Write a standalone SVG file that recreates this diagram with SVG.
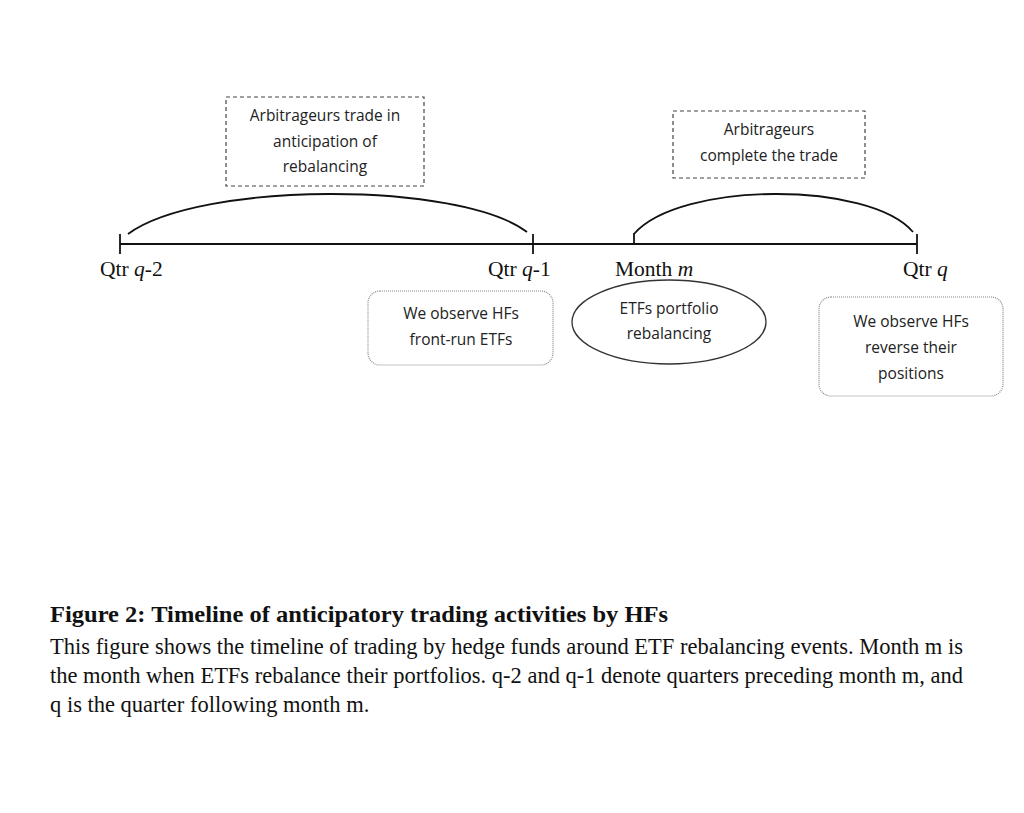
<svg xmlns="http://www.w3.org/2000/svg" width="1024" height="813" viewBox="0 0 1024 813">
<style>
.sans{font-family:"Open Sans","Noto Sans",sans-serif;font-size:15.5px;fill:#222;text-anchor:middle}
.serif{font-family:"Liberation Serif","Times New Roman",serif;font-size:22.5px;fill:#111}
.lbl{font-family:"Liberation Serif","Times New Roman",serif;font-size:21.5px;fill:#111}
.dash{fill:none;stroke:#444;stroke-width:1.2;stroke-dasharray:4 3}
.dot{fill:none;stroke:#888;stroke-width:1.2;stroke-dasharray:1 1}
.line{fill:none;stroke:#111;stroke-width:1.8}
</style>
<rect width="1024" height="813" fill="#fff"/>
<g id="connectors">
<line class="line" x1="120" y1="244" x2="917" y2="244"/>
<line class="line" x1="120" y1="234" x2="120" y2="254"/>
<line class="line" x1="533" y1="234" x2="533" y2="254"/>
<line class="line" x1="634" y1="233" x2="634" y2="244"/>
<line class="line" x1="917" y1="234" x2="917" y2="254"/>
<path class="line" d="M128,234 C200,181 460,181 527,232"/>
<path class="line" d="M634,234 C680,181 870,181 913,232"/>
</g>
<g id="labels">
<text class="lbl" x="100" y="276">Qtr <tspan font-style="italic">q</tspan>-2</text>
<text class="lbl" x="488" y="276">Qtr <tspan font-style="italic">q</tspan>-1</text>
<text class="lbl" x="615" y="276">Month <tspan font-style="italic">m</tspan></text>
<text class="lbl" x="903" y="276">Qtr <tspan font-style="italic">q</tspan></text>
</g>
<g id="box-anticipation">
<rect class="dash" x="226" y="97" width="198" height="89"/>
<text class="sans" x="325" y="121">Arbitrageurs trade in</text>
<text class="sans" x="325" y="147">anticipation of</text>
<text class="sans" x="325" y="172">rebalancing</text>
</g>
<g id="box-complete">
<rect class="dash" x="673" y="111" width="192" height="67"/>
<text class="sans" x="769" y="135">Arbitrageurs</text>
<text class="sans" x="769" y="161">complete the trade</text>
</g>
<g id="box-frontrun">
<rect class="dot" x="368" y="291" width="185" height="74" rx="12"/>
<text class="sans" x="461" y="319">We observe HFs</text>
<text class="sans" x="461" y="345">front-run ETFs</text>
</g>
<g id="ellipse-rebalancing">
<ellipse cx="669" cy="322" rx="97" ry="42" fill="none" stroke="#333" stroke-width="1.3"/>
<text class="sans" x="669" y="314">ETFs portfolio</text>
<text class="sans" x="669" y="339">rebalancing</text>
</g>
<g id="box-reverse">
<rect class="dot" x="819" y="297" width="184" height="99" rx="12"/>
<text class="sans" x="911" y="327">We observe HFs</text>
<text class="sans" x="911" y="353">reverse their</text>
<text class="sans" x="911" y="379">positions</text>
</g>
<g id="caption">
<text class="serif" x="50" y="622" font-weight="bold" textLength="618" lengthAdjust="spacingAndGlyphs">Figure 2: Timeline of anticipatory trading activities by HFs</text>
<text class="serif" x="50" y="654" textLength="913" lengthAdjust="spacingAndGlyphs">This figure shows the timeline of trading by hedge funds around ETF rebalancing events. Month m is</text>
<text class="serif" x="50" y="683" textLength="913" lengthAdjust="spacingAndGlyphs">the month when ETFs rebalance their portfolios. q-2 and q-1 denote quarters preceding month m, and</text>
<text class="serif" x="50" y="712">q is the quarter following month m.</text>
</g>
</svg>
